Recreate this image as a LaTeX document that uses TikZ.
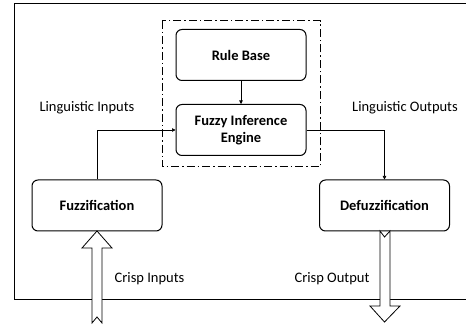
\documentclass[tikz,border=0pt]{standalone}
\usepackage{fontspec}
\setmainfont{Carlito}
\usetikzlibrary{arrows.meta}
\begin{document}
\begin{tikzpicture}[x=1pt,y=-1pt,
  blk/.style={draw, line width=1pt, rounded corners=6pt, minimum width=130pt, minimum height=51pt, align=center, font=\fontsize{14.5}{17.5}\selectfont\bfseries, inner sep=2pt},
  lbl/.style={font=\fontsize{14.5}{17}\selectfont, inner sep=0pt},
  conn/.style={line width=0.6pt, -{Triangle[length=3.5pt,width=3.5pt]}},
  fat/.style={draw, line width=0.8pt, fill=white}]
\useasboundingbox (0,0) rectangle (466,331);
\draw[line width=0.8pt] (466,3) -- (14,3) -- (14,299) -- (466,299);
\draw[line width=1pt, dash pattern=on 8pt off 3pt on 1.5pt off 3pt] (162,21) rectangle (320,167);
\node[blk] (rb) at (241,55) {Rule Base};
\node[blk] (fie) at (241,130) {Fuzzy Inference\\Engine};
\node[blk] (fuz) at (97,205.5) {Fuzzification};
\node[blk] (def) at (384.5,205.5) {Defuzzification};
\draw[conn] (rb.south) -- (fie.north);
\draw[conn] (fuz.north) |- (fie.west);
\draw[conn] (fie.east) -| (def.north);
\draw[fat] (97,231) -- (112,248) -- (102,248) -- (102,323) -- (97,317) -- (92,323) -- (92,248) -- (82,248) -- cycle;
\draw[fat] (380,231) -- (384.5,237) -- (390,231) -- (390,306) -- (400,306) -- (384.5,322) -- (370,306) -- (380,306) -- cycle;
\node[lbl] (li) at (87,108) {Linguistic Inputs};
\node[lbl] (lo) at (405,108) {Linguistic Outputs};
\node[lbl] (ci) at (149.5,279) {Crisp Inputs};
\node[lbl] (co) at (332,279) {Crisp Output};
\end{tikzpicture}
\end{document}
